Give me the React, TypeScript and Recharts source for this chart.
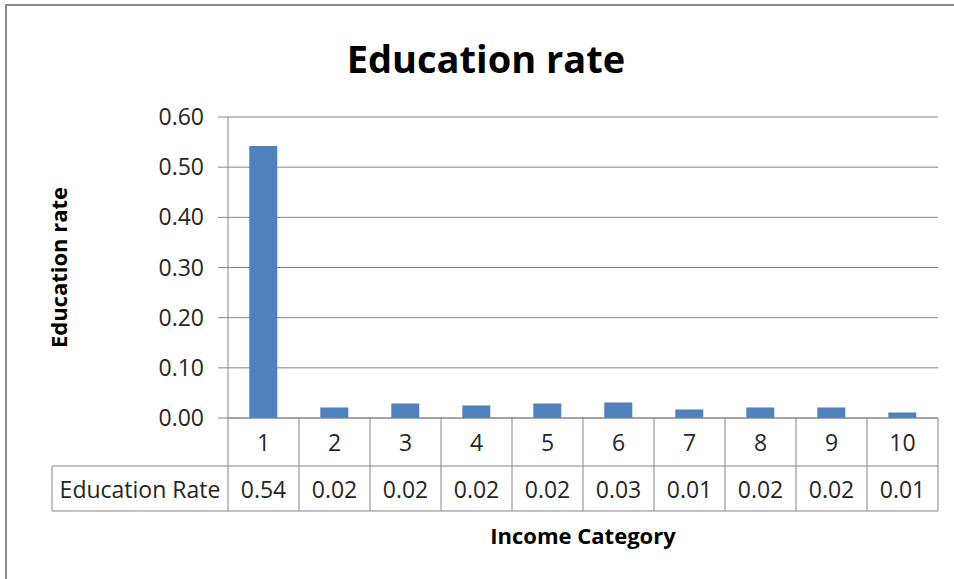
import React from 'react';
import { BarChart, Bar, XAxis, YAxis, CartesianGrid, Customized } from 'recharts';

const categories = ['1', '2', '3', '4', '5', '6', '7', '8', '9', '10'];
const educationRate = [0.542, 0.021, 0.029, 0.025, 0.029, 0.031, 0.017, 0.021, 0.021, 0.011];
const tableLabels = ['0.54', '0.02', '0.02', '0.02', '0.02', '0.03', '0.01', '0.02', '0.02', '0.01'];
const yTicks = [0, 0.1, 0.2, 0.3, 0.4, 0.5, 0.6];
const seriesName = 'Education Rate';
const chartTitle = 'Education rate';
const yTitle = 'Education rate';
const xTitle = 'Income Category';

const data = categories.map((c, i) => ({ category: c, rate: educationRate[i], label: tableLabels[i] }));

const FONT = '"Open Sans", sans-serif';
const GRID = '#868686';
const TEXT = '#262626';
const FS = 23;

const TableTick = (props: any) => {
  const { x, y, index, width, visibleTicksCount, payload } = props;
  const n = visibleTicksCount || categories.length;
  const cw = width && n ? width / n : 71;
  const left = x - cw / 2;
  const right = x + cw / 2;
  const r1 = 48;
  const r2 = 45;
  const labelLeft = 52;
  return (
    <g>
      <line x1={right} y1={y} x2={right} y2={y + r1 + r2} stroke={GRID} strokeWidth={1} />
      <line x1={left} y1={y + r1} x2={right} y2={y + r1} stroke={GRID} strokeWidth={1} />
      <line x1={left} y1={y + r1 + r2} x2={right} y2={y + r1 + r2} stroke={GRID} strokeWidth={1} />
      {index === 0 && (
        <g>
          <line x1={left} y1={y} x2={left} y2={y + r1 + r2} stroke={GRID} strokeWidth={1} />
          <line x1={labelLeft} y1={y + r1} x2={left} y2={y + r1} stroke={GRID} strokeWidth={1} />
          <line x1={labelLeft} y1={y + r1 + r2} x2={left} y2={y + r1 + r2} stroke={GRID} strokeWidth={1} />
          <line x1={labelLeft} y1={y + r1} x2={labelLeft} y2={y + r1 + r2} stroke={GRID} strokeWidth={1} />
          <text x={(labelLeft + left) / 2} y={y + r1 + r2 / 2} textAnchor="middle" dominantBaseline="central" fontSize={FS} fill={TEXT} fontFamily={FONT}>
            {seriesName}
          </text>
        </g>
      )}
      <text x={x} y={y + r1 / 2} textAnchor="middle" dominantBaseline="central" fontSize={FS} fill={TEXT} fontFamily={FONT}>
        {payload.value}
      </text>
      <text x={x} y={y + r1 + r2 / 2} textAnchor="middle" dominantBaseline="central" fontSize={FS} fill={TEXT} fontFamily={FONT}>
        {tableLabels[index]}
      </text>
    </g>
  );
};

const YTitle = (props: any) => {
  const vb = props.viewBox || { x: 0, y: 117, width: 228, height: 301 };
  const cx = vb.x + 58;
  const cy = vb.y + vb.height / 2;
  return (
    <text x={cx} y={cy} transform={`rotate(-90, ${cx}, ${cy})`} textAnchor="middle" dominantBaseline="central" fontSize={22} fontWeight="bold" fill="#000" fontFamily={FONT}>
      {yTitle}
    </text>
  );
};

const XTitle = (props: any) => {
  const vb = props.viewBox || { x: 228, y: 418, width: 710, height: 161 };
  return (
    <text x={vb.x + vb.width / 2} y={vb.y + 117} textAnchor="middle" dominantBaseline="central" fontSize={22} fontWeight="bold" fill="#000" fontFamily={FONT}>
      {xTitle}
    </text>
  );
};

const Title = () => (
  <text x={486} y={58} textAnchor="middle" dominantBaseline="central" fontSize={38} fontWeight="bold" fill="#000" fontFamily={FONT}>
    {chartTitle}
  </text>
);

export default function App() {
  return (
    <div style={{ position: 'fixed', left: 0, top: 0, width: 954, height: 579, overflow: 'hidden', background: '#fff' }}>
      <div style={{ position: 'absolute', left: 5, top: 4, width: 980, height: 620, border: '2px solid #8a8a8a', boxSizing: 'border-box' }} />
      <div style={{ position: 'absolute', left: 0, top: 0 }}>
        <BarChart
          width={954}
          height={579}
          data={data}
          margin={{ top: 117, right: 16, bottom: 0, left: 0 }}
          barCategoryGap="30%"
          style={{ fontFamily: FONT }}
        >
          <CartesianGrid horizontal={true} vertical={false} stroke={GRID} strokeDasharray="" />
          <XAxis
            dataKey="category"
            height={161}
            axisLine={{ stroke: GRID }}
            tickLine={false}
            tickSize={0}
            tickMargin={0}
            interval={0}
            tick={<TableTick />}
            label={<XTitle />}
          />
          <YAxis
            width={228}
            domain={[0, 0.6]}
            ticks={yTicks}
            tickFormatter={(v: number) => v.toFixed(2)}
            axisLine={{ stroke: GRID }}
            tickLine={{ stroke: GRID }}
            tickSize={10}
            tickMargin={14}
            tick={{ fontSize: FS, fill: TEXT, fontFamily: FONT }}
            label={<YTitle />}
          />
          <Bar dataKey="rate" fill="#4F81BD" isAnimationActive={false} />
          <Customized component={Title} />
        </BarChart>
      </div>
    </div>
  );
}
